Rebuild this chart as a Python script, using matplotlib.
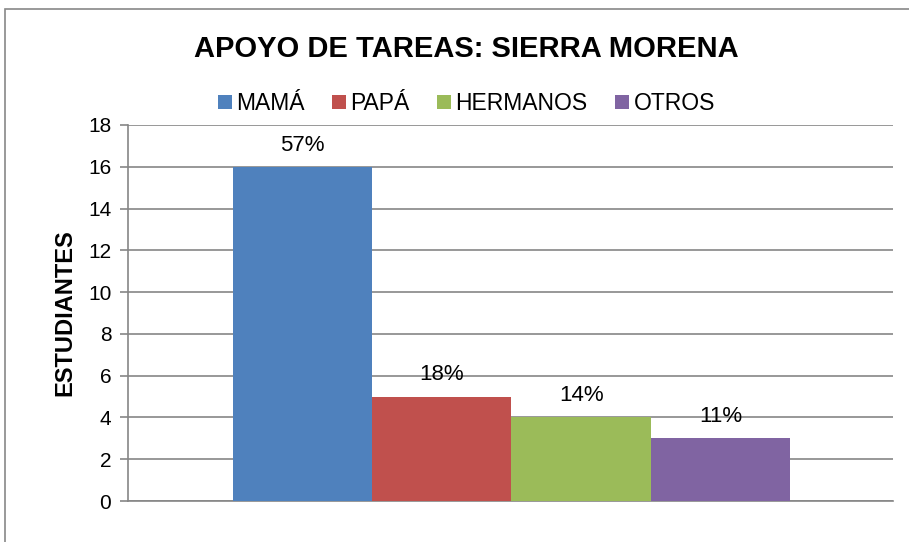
import matplotlib.pyplot as plt
from matplotlib.patches import Rectangle

plt.rcParams['font.family'] = ['Liberation Sans', 'DejaVu Sans']

categorias = ['MAMÁ', 'PAPÁ', 'HERMANOS', 'OTROS']
estudiantes = [16, 5, 4, 3]
porcentajes = ['57%', '18%', '14%', '11%']
colores = ['#4F81BD', '#C0504D', '#9BBB59', '#8064A2']

fig = plt.figure(figsize=(9.09, 5.42), dpi=100)
ax = fig.add_axes([0.1408, 0.0756, 0.8416, 0.6938])

for i, (cat, val, pct, col) in enumerate(zip(categorias, estudiantes, porcentajes, colores)):
    ax.bar(i, val, width=1.0, color=col, label=cat, zorder=3)
    ax.annotate(pct, (i, val), xytext=(0, 8), textcoords='offset points',
                ha='center', va='bottom', fontsize=16)

ax.set_xlim(-1.254, 4.24)
ax.set_ylim(0, 18)
ax.set_yticks(range(0, 19, 2))
ax.set_xticks([])
ax.yaxis.grid(True, color='#868686', linewidth=1.2, zorder=0)
ax.tick_params(axis='y', length=6, width=1.2, color='#868686', labelsize=15, pad=6)
for s in ['top', 'right']:
    ax.spines[s].set_visible(False)
for s in ['left', 'bottom']:
    ax.spines[s].set_color('#868686')
    ax.spines[s].set_linewidth(1.2)

ax.set_ylabel('ESTUDIANTES', fontsize=17, fontweight='bold', labelpad=8)

fig.text(0.513, 0.91, 'APOYO DE TAREAS: SIERRA MORENA', ha='center', va='center',
         fontsize=21, fontweight='bold')
fig.legend(loc='center', bbox_to_anchor=(0.513, 0.809), ncol=4, frameon=False,
           fontsize=16.5, handlelength=0.6, handleheight=0.6, handletextpad=0.2,
           columnspacing=1.2)

fig.patches.append(Rectangle((0.005, -0.02), 1.2, 1.004, transform=fig.transFigure,
                             fill=False, edgecolor='#888888', linewidth=1.2))

fig.savefig('out.png', dpi=100)
